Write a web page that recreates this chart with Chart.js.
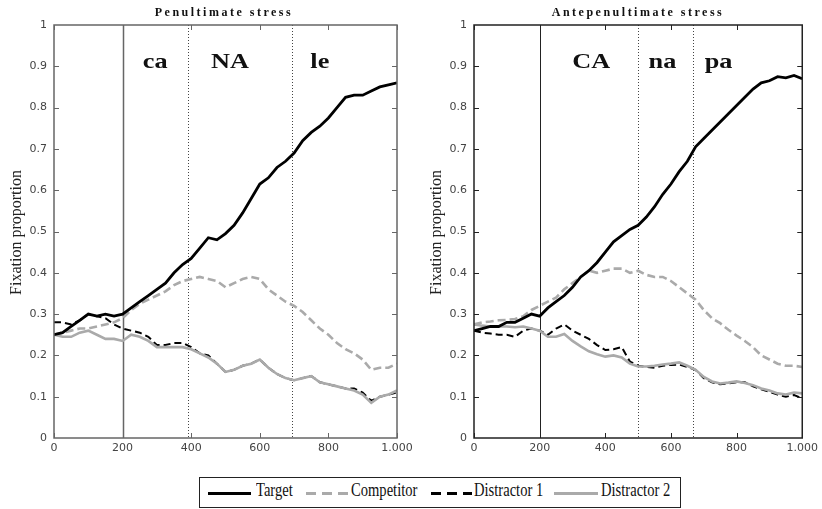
<!DOCTYPE html>
<html lang="en">
<head>
<meta charset="UTF-8">
<title>Fixation proportion</title>
<script src="https://cdn.jsdelivr.net/npm/chart.js"></script>
<style>
    body { margin: 0; background: #fff; width: 822px; height: 509px; overflow: hidden; position: relative; }
    canvas { position: absolute; top: 0; }
    #c1 { left: 0; }
    #c2 { left: 420px; }
    .title { position: absolute; top: 5px; font: bold 12px 'Liberation Serif', serif; letter-spacing: 2.5px; transform: translateX(-50%); white-space: nowrap; color: #111; }
    #legend { position: absolute; left: 199px; top: 477px; width: 482px; height: 31px; border: 1px solid #222; box-sizing: border-box; }
    .sample { position: absolute; top: 14px; height: 3px; }
    .lab { position: absolute; top: 2px; line-height: 30px; font: 18px 'Liberation Serif', serif; transform: scaleX(0.81); transform-origin: left; color: #111; white-space: nowrap; }
</style>
</head>
<body>
<canvas id="c1" width="420" height="470"></canvas>
<canvas id="c2" width="402" height="470"></canvas>
<div class="title" style="left:224px">Penultimate stress</div>
<div class="title" style="left:638px">Antepenultimate stress</div>
<div id="legend">
    <div class="sample" style="left:8px;width:43px;background:#000"></div>
    <div class="lab" style="left:56px">Target</div>
    <div class="sample" style="left:106px;width:42px;background:repeating-linear-gradient(to right,#aaa 0 10px,transparent 10px 16px)"></div>
    <div class="lab" style="left:151px">Competitor</div>
    <div class="sample" style="left:231px;width:41px;background:repeating-linear-gradient(to right,#000 0 10px,transparent 10px 16px)"></div>
    <div class="lab" style="left:274px">Distractor 1</div>
    <div class="sample" style="left:354px;width:44px;background:#aaa"></div>
    <div class="lab" style="left:401px">Distractor 2</div>
</div>
<script>
// time in ms (x axis)
const times = [0,25,50,75,100,125,150,175,200,225,250,275,300,325,350,375,400,425,450,475,500,
               525,550,575,600,625,650,675,700,725,750,775,800,825,850,875,900,925,950,975,1000];

// Penultimate stress
const penTarget = [0.25,0.255,0.27,0.285,0.30,0.295,0.30,0.295,0.30,0.315,0.33,0.345,0.36,0.375,0.40,0.42,0.435,0.46,0.485,0.48,0.495,
                   0.515,0.545,0.58,0.615,0.63,0.655,0.67,0.69,0.72,0.74,0.755,0.775,0.80,0.825,0.83,0.83,0.84,0.85,0.855,0.86];
const penCompetitor = [0.25,0.255,0.26,0.265,0.265,0.27,0.275,0.28,0.29,0.31,0.325,0.335,0.345,0.355,0.37,0.38,0.385,0.39,0.385,0.38,0.365,
                       0.375,0.385,0.39,0.385,0.36,0.345,0.33,0.32,0.305,0.285,0.265,0.25,0.23,0.215,0.205,0.19,0.165,0.17,0.17,0.18];
const penDistr1 = [0.28,0.28,0.275,0.285,0.30,0.295,0.29,0.275,0.265,0.26,0.255,0.245,0.225,0.225,0.23,0.23,0.22,0.205,0.20,0.18,0.16,
                   0.165,0.175,0.18,0.19,0.17,0.155,0.145,0.14,0.145,0.15,0.135,0.13,0.125,0.12,0.12,0.11,0.09,0.10,0.105,0.11];
const penDistr2 = [0.25,0.245,0.245,0.255,0.26,0.25,0.24,0.24,0.235,0.25,0.245,0.235,0.22,0.22,0.22,0.22,0.215,0.205,0.195,0.18,0.16,
                   0.165,0.175,0.18,0.19,0.17,0.155,0.145,0.14,0.145,0.15,0.135,0.13,0.125,0.12,0.115,0.105,0.085,0.10,0.105,0.115];

// Antepenultimate stress
const antTarget = [0.26,0.265,0.27,0.27,0.28,0.28,0.29,0.30,0.295,0.315,0.33,0.345,0.365,0.39,0.405,0.425,0.45,0.475,0.49,0.505,0.515,
                   0.535,0.56,0.59,0.615,0.645,0.67,0.705,0.725,0.745,0.765,0.785,0.805,0.825,0.845,0.86,0.865,0.875,0.872,0.878,0.87];
const antCompetitor = [0.275,0.28,0.282,0.285,0.286,0.288,0.295,0.31,0.32,0.33,0.34,0.36,0.375,0.39,0.405,0.40,0.405,0.41,0.41,0.40,0.405,
                       0.395,0.39,0.39,0.38,0.365,0.35,0.335,0.31,0.29,0.278,0.262,0.248,0.235,0.22,0.20,0.19,0.18,0.175,0.175,0.172];
const antDistr1 = [0.26,0.255,0.253,0.25,0.25,0.245,0.26,0.265,0.26,0.25,0.265,0.275,0.26,0.25,0.24,0.225,0.213,0.215,0.22,0.185,0.175,
                   0.172,0.17,0.175,0.177,0.178,0.172,0.165,0.145,0.135,0.13,0.132,0.135,0.135,0.125,0.118,0.112,0.105,0.10,0.104,0.096];
const antDistr2 = [0.275,0.272,0.27,0.27,0.27,0.268,0.27,0.265,0.26,0.245,0.245,0.252,0.235,0.222,0.21,0.203,0.197,0.20,0.195,0.18,0.173,
                   0.173,0.175,0.178,0.18,0.183,0.175,0.165,0.148,0.137,0.132,0.134,0.137,0.133,0.128,0.12,0.115,0.108,0.105,0.11,0.108];

const xTicks = [0,200,400,600,800,1000];
const xTickLabels = ['0','200','400','600','800','1.000'];

// word onset markers and syllable labels
const penOnset = 200, penBounds = [390, 695];
const penSyllables = ['ca','NA','le'], penSylAt = [295, 513, 775];
const antOnset = 200, antBounds = [500, 667];
const antSyllables = ['CA','na','pa'], antSylAt = [357, 574, 745];

function pts(arr){ return times.map((t,i) => ({x:t, y:arr[i]})); }

function makeDatasets(tg, cp, d1, d2){
    return [
        {label:'Target', data:pts(tg), borderColor:'#000', borderWidth:2.8},
        {label:'Competitor', data:pts(cp), borderColor:'#aaa', borderWidth:2.6, borderDash:[8,4]},
        {label:'Distractor 2', data:pts(d2), borderColor:'#aaa', borderWidth:2.6},
        {label:'Distractor 1', data:pts(d1), borderColor:'#000', borderWidth:2, borderDash:[7,4]}
    ];
}

function panelPlugin(onset, bounds, syl, sylAt, frame, onsetW){
    return {
        id:'panel',
        beforeDatasetsDraw(chart){
            const ctx = chart.ctx, a = chart.chartArea, x = chart.scales.x;
            ctx.save();
            ctx.strokeStyle = frame; ctx.lineWidth = onsetW;
            let px = Math.round(x.getPixelForValue(onset)) + 0.5;
            ctx.beginPath(); ctx.moveTo(px, a.top); ctx.lineTo(px, a.bottom); ctx.stroke();
            ctx.strokeStyle = '#444'; ctx.lineWidth = 1; ctx.setLineDash([1,2]);
            bounds.forEach(b => {
                let p = Math.round(x.getPixelForValue(b)) + 0.5;
                ctx.beginPath(); ctx.moveTo(p, a.top); ctx.lineTo(p, a.bottom); ctx.stroke();
            });
            ctx.restore();
        },
        afterDraw(chart){
            const ctx = chart.ctx, a = chart.chartArea, x = chart.scales.x, y = chart.scales.y;
            ctx.save();
            ctx.strokeStyle = frame; ctx.lineWidth = 1.5;
            ctx.strokeRect(a.left, a.top, a.right - a.left, a.bottom - a.top);
            ctx.lineWidth = 1;
            ctx.beginPath();
            xTicks.forEach(t => {
                let p = Math.round(x.getPixelForValue(t)) + 0.5;
                ctx.moveTo(p, a.bottom); ctx.lineTo(p, a.bottom - 5);
                ctx.moveTo(p, a.top); ctx.lineTo(p, a.top + 5);
            });
            for (let i = 1; i < 10; i++) {
                let p = Math.round(y.getPixelForValue(i / 10)) + 0.5;
                ctx.moveTo(a.left, p); ctx.lineTo(a.left + 5, p);
                ctx.moveTo(a.right, p); ctx.lineTo(a.right - 5, p);
            }
            ctx.stroke();
            // syllables
            ctx.fillStyle = '#111';
            ctx.font = 'bold 21px "Liberation Serif"';
            ctx.textAlign = 'center'; ctx.textBaseline = 'middle';
            syl.forEach((s, i) => {
                ctx.save();
                ctx.translate(x.getPixelForValue(sylAt[i]), y.getPixelForValue(0.91));
                ctx.scale(1.25, 1);
                ctx.fillText(s, 0, 0);
                ctx.restore();
            });
            // y title
            ctx.font = '16px "Liberation Serif"';
            ctx.fillStyle = '#222';
            ctx.translate(17, (a.top + a.bottom) / 2 + 1);
            ctx.rotate(-Math.PI / 2);
            ctx.fillText('Fixation proportion', 0, 0);
            ctx.restore();
        }
    };
}

function makeChart(id, datasets, rightPad, plugin){
    return new Chart(document.getElementById(id), {
        type:'line',
        data:{datasets:datasets},
        options:{
            responsive:false, animation:false, devicePixelRatio:1,
            layout:{padding:{left:0, right:rightPad, top:25, bottom:0}},
            elements:{point:{radius:0}, line:{tension:0}},
            plugins:{legend:{display:false}, tooltip:{enabled:false}},
            scales:{
                x:{type:'linear', min:0, max:1000,
                   grid:{display:false, drawTicks:false}, border:{display:false},
                   afterFit(s){ s.height = 32; },
                   afterBuildTicks(s){ s.ticks = xTicks.map(v => ({value:v})); },
                   ticks:{autoSkip:false, maxRotation:0, padding:4, color:'#444',
                          font:{family:'DejaVu Sans', size:11},
                          callback:(v) => xTickLabels[xTicks.indexOf(v)]}},
                y:{min:0, max:1,
                   grid:{display:false, drawTicks:false}, border:{display:false},
                   afterFit(s){ s.width = 54; },
                   ticks:{stepSize:0.1, padding:7, color:'#444',
                          font:{family:'DejaVu Sans', size:11},
                          callback:(v) => { let r = Math.round(v * 10) / 10; return (r === 0 || r === 1) ? String(r) : r.toFixed(1); }}}
            }
        },
        plugins:[plugin]
    });
}

makeChart('c1', makeDatasets(penTarget, penCompetitor, penDistr1, penDistr2), 23,
          panelPlugin(penOnset, penBounds, penSyllables, penSylAt, '#666', 1.5));
makeChart('c2', makeDatasets(antTarget, antCompetitor, antDistr1, antDistr2), 15,
          panelPlugin(antOnset, antBounds, antSyllables, antSylAt, '#222', 1));
</script>
</body>
</html>
